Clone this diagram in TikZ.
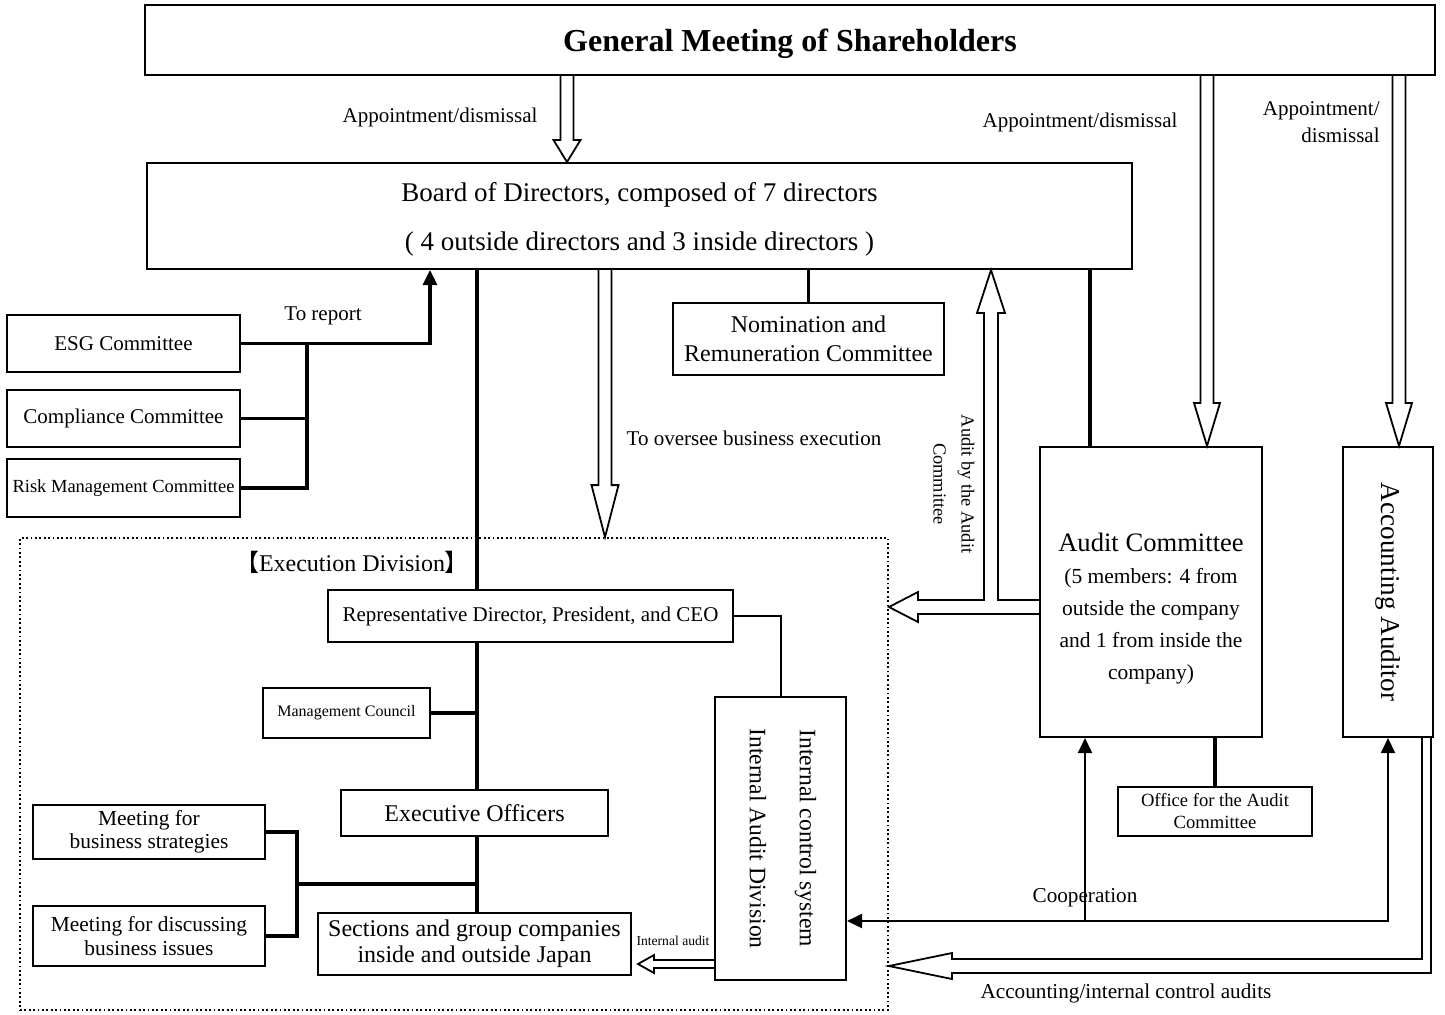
\documentclass[tikz,border=0pt]{standalone}
\usepackage{graphicx}
\usepackage{fontspec}
\setmainfont{Liberation Serif}
\newfontfamily\cjkfont{Noto Sans CJK JP}
\usetikzlibrary{calc,arrows.meta}
\newcommand{\fsz}[2]{\fontsize{#1}{#2}\selectfont}
\newcommand{\hollowarrow}[5]{%
  \coordinate (hc) at ($(#2)!#5!(#1)$);
  \draw[hollow] ($(#1)!#3!90:(#2)$) -- ($(hc)!#3!90:(#2)$) -- ($(hc)!#4!90:(#2)$)
    -- (#2) -- ($(hc)!#4!-90:(#2)$) -- ($(hc)!#3!-90:(#2)$) -- ($(#1)!#3!-90:(#2)$);
}

\begin{document}
\begin{tikzpicture}[x=0.5pt,y=-0.5pt,
  box/.style={draw,line width=1pt,inner sep=0pt,align=center},
  conn/.style={line width=1.6pt},
  coop/.style={line width=1pt},
  hollow/.style={line width=0.9pt},
  >={Triangle[width=7pt,length=7.5pt]}]
\tikzstyle{every node}+=[inner sep=0pt]
\useasboundingbox (0,0) rectangle (1445,1014);
\node[box,minimum width=645pt,minimum height=35pt,text depth=0pt,font=\fsz{16}{19}\bfseries] (gms) at (790,40) {General Meeting of Shareholders};
\node[box,minimum width=492.5pt,minimum height=53pt,text depth=0pt,font=\fsz{13.5}{24.5}] (board) at (639.5,216) {Board of Directors, composed of 7 directors\\( 4 outside directors and 3 inside directors )};
\node[box,minimum width=116.5pt,minimum height=28.5pt,font=\fsz{10.5}{12}] (esg) at (123.5,343.5) {ESG Committee};
\node[box,minimum width=116.5pt,minimum height=28.5pt,font=\fsz{10.5}{12}] (comp) at (123.5,418.5) {Compliance Committee};
\node[box,minimum width=116.5pt,minimum height=29pt,font=\fsz{9.25}{11}] (risk) at (123.5,488) {Risk Management Committee};
\node[box,minimum width=135.5pt,minimum height=36pt,font=\fsz{12}{14.5}] (nom) at (808.5,339) {Nomination and\\Remuneration Committee};
\node[box,minimum width=111pt,minimum height=145pt] (audit) at (1151,592) {};
\node[align=center,font=\fsz{10.75}{16}] (audittext) at (1151,609) {{\fsz{13.3}{17}Audit Committee}\\(5 members: 4 from\\outside the company\\and 1 from inside the\\company)};
\node[box,minimum width=45pt,minimum height=145pt,font=\fsz{13.6}{16}] (acct) at (1388,592) {\rotatebox{-90}{Accounting Auditor}};
\node[box,minimum width=97pt,minimum height=24.5pt,font=\fsz{9.3}{11}] (office) at (1215,811.5) {Office for the Audit\\Committee};
\node[draw,line width=0.9pt,dash pattern=on 0.9pt off 1.3pt,minimum width=434pt,minimum height=236pt] (div) at (454,774) {};
\node[font=\fsz{12}{14}] (divtitle) at (352,562) {{\cjkfont 【}Execution Division{\cjkfont 】}};
\node[box,minimum width=202.5pt,minimum height=26pt,font=\fsz{10.5}{12}] (rep) at (530.5,616) {Representative Director, President, and CEO};
\node[box,minimum width=83.5pt,minimum height=25pt,font=\fsz{8}{10}] (mc) at (346.5,713) {Management Council};
\node[box,minimum width=133.5pt,minimum height=23pt,font=\fsz{12}{14}] (eo) at (474.5,813) {Executive Officers};
\node[box,minimum width=116pt,minimum height=27pt,font=\fsz{10.7}{11.5}] (mbs) at (149,832) {Meeting for\\business strategies};
\node[box,minimum width=116pt,minimum height=30pt,font=\fsz{10.7}{12}] (mdb) at (149,936) {Meeting for discussing\\business issues};
\node[box,minimum width=156.5pt,minimum height=31pt,font=\fsz{12}{13}] (sec) at (474.5,944) {Sections and group companies\\inside and outside Japan};
\node[box,minimum width=65.5pt,minimum height=141.5pt,font=\fsz{11.8}{14}] (icb) at (780.5,838.5) {\rotatebox{-90}{\begin{tabular}{@{}c@{}}Internal control system\\[11pt]Internal Audit Division\end{tabular}}};
\node[font=\fsz{10.5}{12}] (lblgb) at (440,117) {Appointment/dismissal};
\node[font=\fsz{10.5}{12}] (lblga) at (1080,122) {Appointment/dismissal};
\node[font=\fsz{10.5}{13.5},align=right,anchor=east] (lblgc) at (1380,122.5) {Appointment/\\dismissal};
\node[font=\fsz{10.5}{12}] (lblrep) at (323,316) {To report};
\node[font=\fsz{10.5}{12}] (lblov) at (754,438) {To oversee business execution};
\node[rotate=-90,align=center,font=\fsz{9.2}{14}] (lblab) at (954,484) {Audit by the Audit\\Committee};
\node[font=\fsz{6.8}{8}] (lblia) at (673,941) {Internal audit};
\node[font=\fsz{10.6}{12}] (lblco) at (1085,898) {Cooperation};
\node[font=\fsz{10.6}{12}] (lblaa) at (1126,993) {Accounting/internal control audits};
\hollowarrow{gms.south -| 567,0}{board.north -| 567,0}{3.25pt}{6.75pt}{11pt}
\hollowarrow{gms.south -| 1207,0}{audit.north -| 1207,0}{3.25pt}{6.5pt}{21.5pt}
\hollowarrow{gms.south -| 1399,0}{acct.north -| 1399,0}{3.25pt}{6.5pt}{21.5pt}
\hollowarrow{board.south -| 605,0}{div.north -| 605,0}{3.25pt}{6.75pt}{26pt}
\coordinate (iatip) at ($(sec.east |- 0,964)+(6,0)$);
\hollowarrow{icb.west |- 0,964}{iatip}{2pt}{4.5pt}{8pt}
\draw[hollow] (audit.west |- 0,614) -- (918,614) -- (918,622) -- (div.east |- 0,607) -- (918,592) -- (918,600) -- (984,600) -- (984,313) -- (977,313) -- (991,0 |- board.south) -- (1005,313) -- (998,313) -- (998,600) -- (audit.west |- 0,600);
\draw[hollow] ($(acct.south east)+(-12,0)$) |- (952,959) -- (952,953) -- (div.east |- 0,966) -- (952,979) -- (952,973) -| ($(acct.south east)+(-3,0)$);
\coordinate (rj) at (307,0 |- esg.east);
\coordinate (rp) at (430,0 |- board.south);
\draw[conn,->] (esg.east) -| (rp);
\draw[conn] (comp.east) -| (rj);
\draw[conn] (risk.east) -| (rj);
\coordinate (sp) at (477,0);
\draw[conn] (board.south -| sp) -- (rep.north -| sp);
\draw[conn] (rep.south -| sp) -- (eo.north -| sp);
\draw[conn] (mc.east) -- (mc.east -| sp);
\draw[conn] (eo.south -| sp) -- (sec.north -| sp);
\coordinate (mj) at (297,884);
\draw[conn] (mbs.east) -| (mdb.east -| mj) -- (mdb.east);
\draw[conn] (mj) -- (mj -| sp);
\draw[conn] (nom.north) -- (nom.north |- board.south);
\coordinate (al) at (1090,0);
\draw[conn] (board.south -| al) -- (audit.north -| al);
\draw[conn] (office.north) -- (office.north |- audit.south);
\draw[coop] (rep.east) -| (icb.north);
\coordinate (cy) at (0,921);
\coordinate (ca) at (1085,0);
\draw[coop,<->] (acct.south) -- (acct.south |- cy) -- (icb.east |- cy);
\draw[coop,->] (ca |- cy) -- (ca |- audit.south);
\end{tikzpicture}
\end{document}
